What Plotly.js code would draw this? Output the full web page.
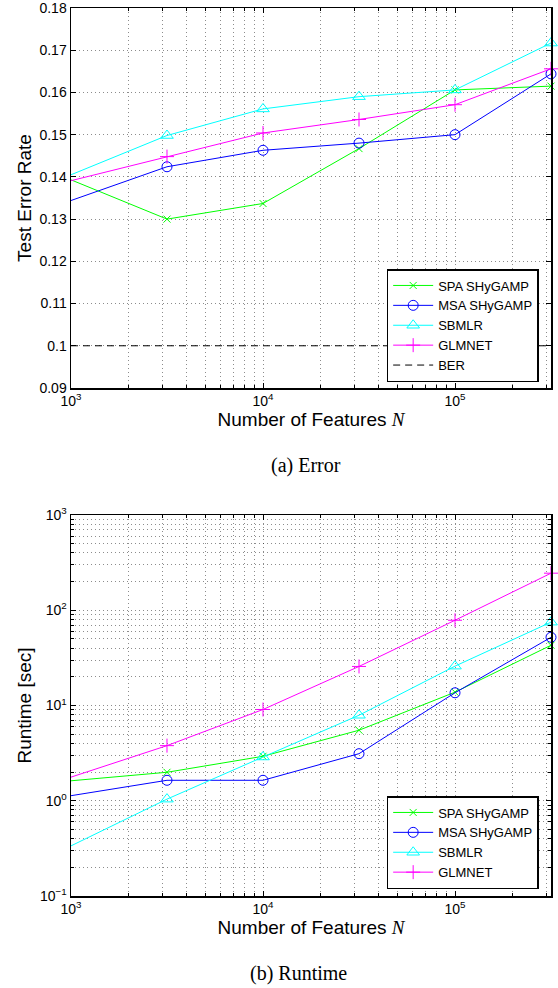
<!DOCTYPE html>
<html>
<head>
<meta charset="utf-8">
<script src="https://cdn.plot.ly/plotly-3.0.1.min.js"></script>
<style>html,body{margin:0;padding:0;background:#fff;}#chart{width:558px;height:988px;}</style>
</head>
<body>
<div id="chart"></div>
<script>
// ---- Data ----
const N = [1000, 3162, 10000, 31623, 100000, 316228];
const methods = ["SPA SHyGAMP", "MSA SHyGAMP", "SBMLR", "GLMNET"];
// (a) Test error rate
const errSPA = [0.1393, 0.1300, 0.1337, 0.1467, 0.1606, 0.1615];
const errMSA = [0.1344, 0.1424, 0.1463, 0.1480, 0.1500, 0.1644];
const errSBMLR = [0.1405, 0.1498, 0.1561, 0.1590, 0.1606, 0.1717];
const errGLMNET = [0.1391, 0.1448, 0.1504, 0.1536, 0.1571, 0.1656];
const berValue = 0.1;
// (b) Runtime [sec]
const rtSPA = [1.62, 1.99, 2.93, 5.5, 13.8, 42.9];
const rtMSA = [1.13, 1.64, 1.64, 3.12, 13.6, 52];
const rtSBMLR = [0.336, 1.04, 2.88, 7.9, 25.9, 75];
const rtGLMNET = [1.77, 3.79, 9.08, 25.7, 78.5, 245];
// tick labels
const xTickVals = [1000, 10000, 100000];
const xTickText = ["10<sup>3</sup>", "10<sup>4</sup>", "10<sup>5</sup>"];
const yErrTickVals = [0.09, 0.10, 0.11, 0.12, 0.13, 0.14, 0.15, 0.16, 0.17, 0.18];
const yErrTickText = ["0.09", "0.1", "0.11", "0.12", "0.13", "0.14", "0.15", "0.16", "0.17", "0.18"];
const yRtTickVals = [0.1, 1, 10, 100, 1000];
const yRtTickText = ["10<sup>−1</sup>", "10<sup>0</sup>", "10<sup>1</sup>", "10<sup>2</sup>", "10<sup>3</sup>"];

// ---- Styles ----
const colors = ["#00ff00", "#0000ff", "#00ffff", "#ff00ff"];
const symbols = ["x-thin-open", "circle-open", "triangle-up-open", "cross-thin-open"];
const sizes = [7, 10, 11, 10];

function minorVals(lo, hi) {
  const v = [];
  for (let e = lo; e < hi; e++) {
    for (let d = 2; d <= 9; d++) v.push(d * Math.pow(10, e));
  }
  return v;
}

const errSeries = [errSPA, errMSA, errSBMLR, errGLMNET];
const rtSeries = [rtSPA, rtMSA, rtSBMLR, rtGLMNET];
const traces = [];
errSeries.forEach((ys, i) => {
  traces.push({
    x: N, y: ys, name: methods[i], type: "scatter", mode: "lines+markers",
    xaxis: "x", yaxis: "y", legend: "legend", cliponaxis: false,
    line: {color: colors[i], width: 1},
    marker: {symbol: symbols[i], size: sizes[i], color: colors[i], line: {color: colors[i], width: 1}}
  });
});
traces.push({
  x: [N[0], N[N.length - 1]], y: [berValue, berValue], name: "BER", type: "scatter", mode: "lines",
  xaxis: "x", yaxis: "y", legend: "legend",
  line: {color: "#000", width: 1, dash: "7px,5px"}
});
rtSeries.forEach((ys, i) => {
  traces.push({
    x: N, y: ys, name: methods[i], type: "scatter", mode: "lines+markers",
    xaxis: "x2", yaxis: "y2", legend: "legend2", cliponaxis: false,
    line: {color: colors[i], width: 1},
    marker: {symbol: symbols[i], size: sizes[i], color: colors[i], line: {color: colors[i], width: 1}}
  });
});

const fam = "Liberation Sans, Arial, sans-serif";
const font = {family: fam, size: 14, color: "#000"};
const legFont = {family: fam, size: 13, color: "#000"};
const titleFont = {family: fam, size: 19, color: "#000"};
const gridCol = "rgba(0,0,0,0.45)";
const gridDash = "1px,3px";
function xAxis(anchor) {
  return {
    type: "log", range: [3, Math.log10(316228)], anchor: anchor,
    tickmode: "array", tickvals: xTickVals, ticktext: xTickText,
    ticks: "inside", ticklen: 5, tickwidth: 1, tickcolor: "#000",
    showline: true, linecolor: "#000", linewidth: 1.5, mirror: "allticks",
    showgrid: true, gridcolor: gridCol, griddash: gridDash, gridwidth: 1,
    minor: {tickmode: "array", tickvals: minorVals(3, 6), ticks: "inside", ticklen: 3, tickcolor: "#000",
            showgrid: true, gridcolor: gridCol, griddash: gridDash, gridwidth: 1},
    zeroline: false, tickfont: font, ticklabeloverflow: "allow",
    title: {text: "Number of Features <span style=\"font-family:'Liberation Serif',serif;font-style:italic\">N</span>",
            font: titleFont, standoff: 3}
  };
}

const layout = {
  width: 558, height: 988,
  margin: {l: 71, r: 7, t: 8, b: 92},
  paper_bgcolor: "#fff", plot_bgcolor: "#fff",
  font: font,
  xaxis: xAxis("y"),
  xaxis2: xAxis("y2"),
  yaxis: {
    domain: [508 / 888, 1], anchor: "x", range: [0.0899999, 0.1800001],
    tickmode: "array", tickvals: yErrTickVals, ticktext: yErrTickText,
    ticks: "inside", ticklen: 5, tickcolor: "#000", ticklabeloverflow: "allow",
    showline: true, linecolor: "#000", linewidth: 1.5, mirror: "allticks",
    showgrid: true, gridcolor: gridCol, griddash: gridDash, zeroline: false, tickfont: font,
    title: {text: "Test Error Rate", font: titleFont, standoff: 3}
  },
  yaxis2: {
    domain: [0, 381 / 888], anchor: "x2", type: "log", range: [-1.000001, 3.000001],
    tickmode: "array", tickvals: yRtTickVals, ticktext: yRtTickText,
    ticks: "inside", ticklen: 5, tickcolor: "#000", ticklabeloverflow: "allow",
    showline: true, linecolor: "#000", linewidth: 1.5, mirror: "allticks",
    showgrid: true, gridcolor: gridCol, griddash: gridDash,
    minor: {tickmode: "array", tickvals: minorVals(-1, 3), ticks: "inside", ticklen: 3, tickcolor: "#000",
            showgrid: true, gridcolor: gridCol, griddash: gridDash, gridwidth: 1},
    zeroline: false, tickfont: font,
    title: {text: "Runtime [sec]", font: titleFont, standoff: 3}
  },
  legend: {
    x: (387 - 71) / 480.5, xanchor: "left", y: (896 - 382) / 888, yanchor: "bottom",
    bgcolor: "#fff", bordercolor: "#000", borderwidth: 1.5,
    font: legFont, tracegroupgap: 0, itemwidth: 40
  },
  legend2: {
    x: (387 - 71) / 480.5, xanchor: "left", y: 7 / 888, yanchor: "bottom",
    bgcolor: "#fff", bordercolor: "#000", borderwidth: 1.5,
    font: legFont, tracegroupgap: 0, itemwidth: 40
  },
  annotations: [
    {text: "(a) Error", xref: "paper", yref: "paper", x: (306 - 71) / 480.5, y: (896 - 465) / 888,
     xanchor: "center", yanchor: "middle", showarrow: false,
     font: {family: "Liberation Serif, Times New Roman, serif", size: 20, color: "#000"}},
    {text: "(b) Runtime", xref: "paper", yref: "paper", x: (299 - 71) / 480.5, y: (896 - 973) / 888,
     xanchor: "center", yanchor: "middle", showarrow: false,
     font: {family: "Liberation Serif, Times New Roman, serif", size: 20, color: "#000"}}
  ],
  showlegend: true
};

Plotly.newPlot("chart", traces, layout, {displayModeBar: false, staticPlot: true});
</script>
</body>
</html>
